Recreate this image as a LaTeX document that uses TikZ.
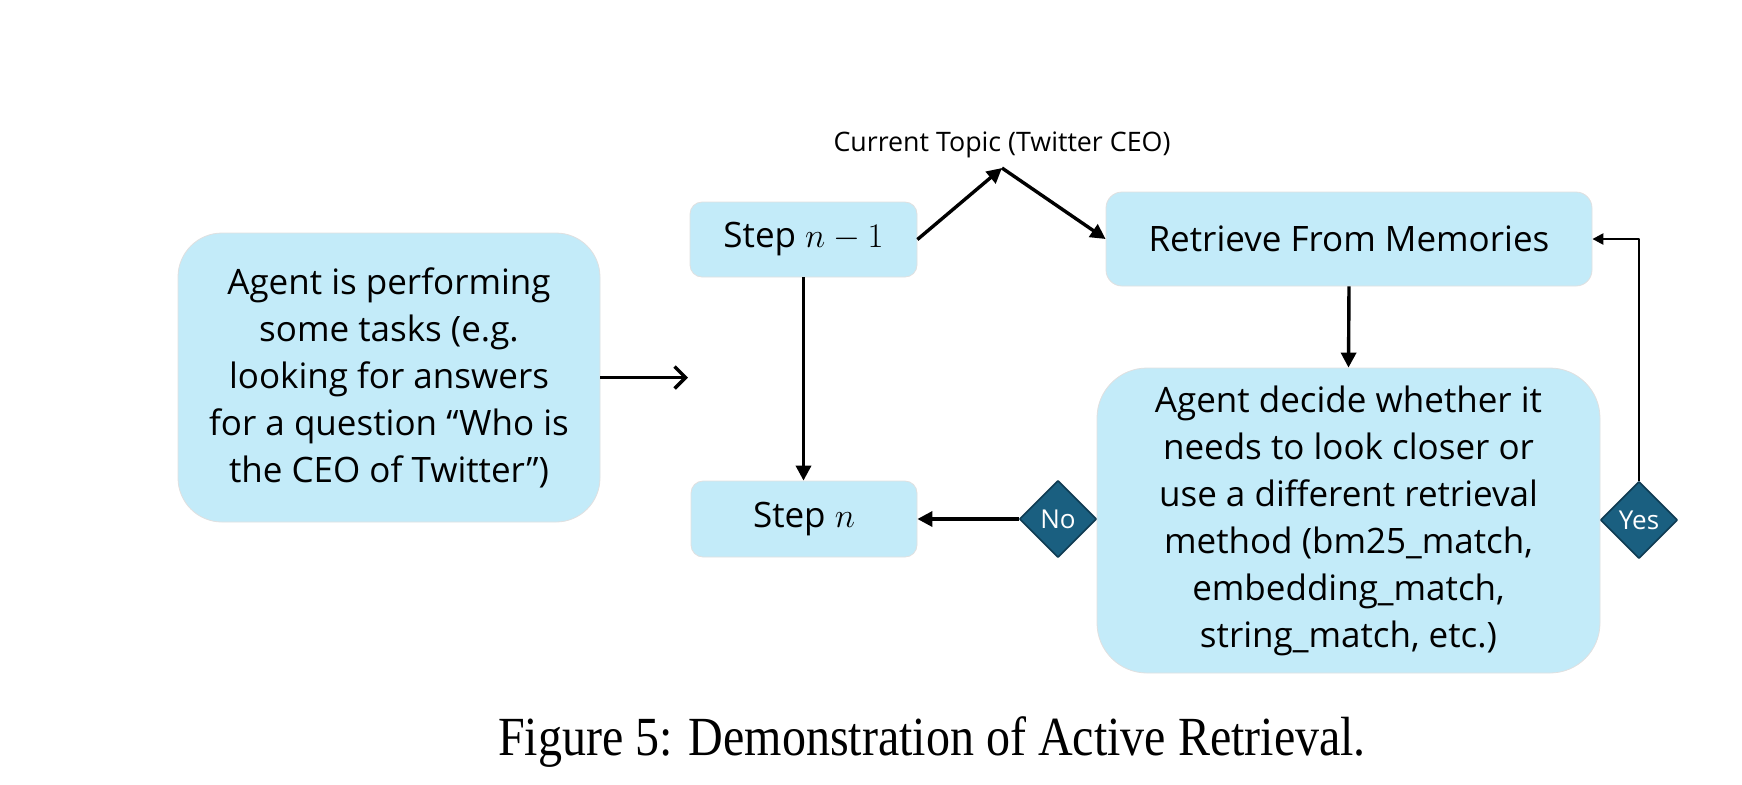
\documentclass[tikz,border=0pt]{standalone}
\usepackage{fontspec}
\usepackage{graphicx}
\setmainfont{Open Sans}
\newfontfamily\capfont{Liberation Serif}
\usetikzlibrary{arrows.meta,shapes.geometric}
\definecolor{boxblue}{HTML}{C3EBF9}
\definecolor{decteal}{HTML}{1A5F80}
\definecolor{decedge}{HTML}{0F3B52}

\begin{document}
\begin{tikzpicture}[x=0.5pt,y=-0.5pt,>={Triangle[length=7.5pt,width=7.5pt]},
	line join=round,
	box/.style={draw=black!12,line width=0.4pt,fill=boxblue,rounded corners=#1,
		align=center,inner sep=0pt,font=\fontsize{17.5}{23.5}\selectfont},
	box/.default=7pt,
	choice/.style={diamond,aspect=1,draw=decedge,line width=0.8pt,fill=decteal,
		text=white,inner sep=0pt,minimum size=38.5pt,font=\fontsize{13}{15}\selectfont},
	flow/.style={line width=1.7pt},
	loop/.style={line width=1.2pt,>={Triangle[length=5.5pt,width=5.5pt]}}]
	\useasboundingbox (0,0) rectangle (1742,784);
	%boxes
	\node[box=22pt,minimum width=211pt,minimum height=144.5pt] (agent) at (389,377.5)
		{Agent is performing\\some tasks (e.g.\\looking for answers\\for a question “Who is\\the CEO of Twitter”)};
	\node[box=6pt,minimum width=113.5pt,minimum height=37.5pt] (stepA) at (803.5,239.5) {Step $n-1$};
	\node[box=6pt,minimum width=113pt,minimum height=38pt] (stepB) at (804,519) {Step $n$};
	\node[box=8pt,minimum width=243pt,minimum height=47pt] (retrieve) at (1349,239) {Retrieve From Memories};
	\node[box=25pt,minimum width=251.5pt,minimum height=152.5pt] (decide) at (1348.5,520.5)
		{Agent decide whether it\\needs to look closer or\\use a different retrieval\\method (bm25\_match,\\embedding\_match,\\string\_match, etc.)};
	\node[choice] (no) at (1058,519) {No};
	\node[choice] (yes) at (1639,520) {Yes};
	%topic label
	\coordinate (topic) at (1002,168);
	\node[font=\fontsize{13.4}{15}\selectfont] (topiclbl) at (1002,145) {Current Topic (Twitter CEO)};
	\coordinate (agentend) at (688,377.5);
	%arrows
	\draw[flow,-{Straight Barb[length=5.5pt,width=11pt]}] (agent.east) -- (agentend);
	\draw[flow,->] (stepA.east) -- (topic);
	\draw[flow,->] (topic) -- (retrieve.west);
	\draw[flow,->] (stepA.south) -- (stepA.south |- stepB.north);
	\draw[flow,->] (retrieve.south) -- (decide.north);
	\draw[flow,->] (no.west) -- (stepB.east);
	\draw[loop,->] (yes.north) |- (retrieve.east);
	%caption
	\node[anchor=base,font=\capfont\fontsize{24}{28}\selectfont] (caption) at (932,755)
		{\scalebox{1}[1.15]{Figure 5: Demonstration of Active Retrieval.}};
\end{tikzpicture}
\end{document}
